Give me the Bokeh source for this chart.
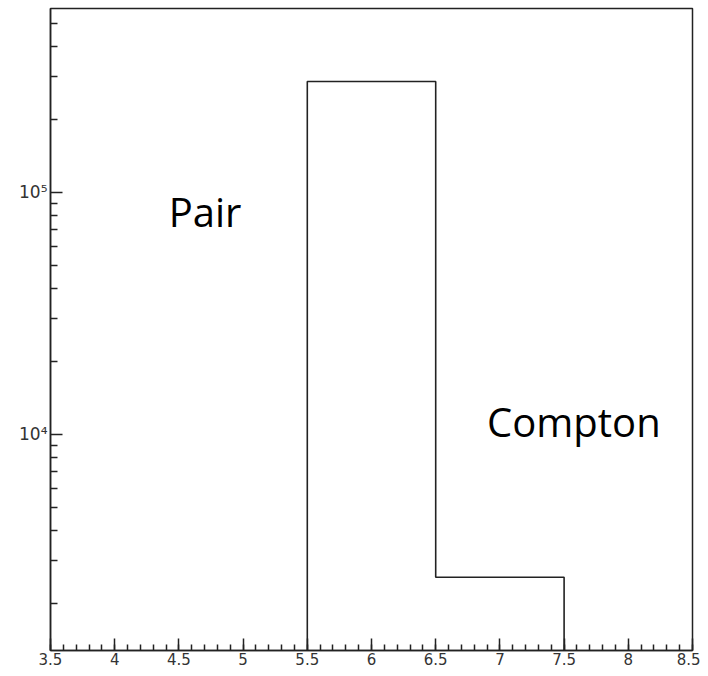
from bokeh.plotting import figure
from bokeh.models import FixedTicker, Range1d, Label
from bokeh.embed import file_html
from bokeh.resources import INLINE

# histogram bins (bin edges) and counts
bin_lo = [5.5, 6.5]
bin_hi = [6.5, 7.5]
counts = [287000, 2570]

x_min, x_max = 3.5, 8.5
y_min, y_max = 1280, 575000

x_major = [3.5, 4, 4.5, 5, 5.5, 6, 6.5, 7, 7.5, 8, 8.5]
x_labels = ["3.5", "4", "4.5", "5", "5.5", "6", "6.5", "7", "7.5", "8", "8.5"]
y_major = [1e4, 1e5]
y_labels = ["10\u2074", "10\u2075"]

p = figure(width=700, height=668, output_backend="svg", toolbar_location=None,
           y_axis_type="log",
           x_range=Range1d(x_min, x_max), y_range=Range1d(y_min, y_max),
           min_border_left=50, min_border_right=8, min_border_top=8,
           min_border_bottom=18)

p.xgrid.visible = False
p.ygrid.visible = False
p.outline_line_color = "#222222"
p.outline_line_width = 1.5
p.background_fill_color = "white"
p.border_fill_color = "white"

# step outline of the histogram
xs, ys = [], []
prev = y_min
for lo, hi, c in zip(bin_lo, bin_hi, counts):
    xs += [lo, lo, hi]
    ys += [prev, c, c]
    prev = c
xs.append(bin_hi[-1])
ys.append(y_min)
p.line(xs, ys, line_color="#222222", line_width=1.6)

# x axis
xa = p.xaxis[0]
xa.ticker = FixedTicker(ticks=x_major,
                        minor_ticks=[round(x_min + 0.1 * i, 2) for i in range(51)])
xa.major_label_overrides = {v: s for v, s in zip(x_major, x_labels)}
xa.major_tick_in = 12
xa.major_tick_out = 0
xa.minor_tick_in = 6
xa.minor_tick_out = 0
xa.axis_line_width = 1.5
xa.axis_line_color = "#222222"
xa.major_tick_line_width = 1.5
xa.minor_tick_line_width = 1.5
xa.major_tick_line_color = "#222222"
xa.minor_tick_line_color = "#222222"
xa.major_label_standoff = 2
xa.major_label_text_font = "DejaVu Sans"
xa.major_label_text_font_size = "15px"
xa.major_label_text_color = "#333333"

# y axis (log)
ya = p.yaxis[0]
ya.ticker = FixedTicker(ticks=y_major,
                        minor_ticks=[m * 10 ** e for e in (3, 4, 5) for m in range(2, 10)])
ya.major_label_overrides = {v: s for v, s in zip(y_major, y_labels)}
ya.major_tick_in = 12
ya.major_tick_out = 0
ya.minor_tick_in = 7
ya.minor_tick_out = 0
ya.axis_line_width = 1.5
ya.axis_line_color = "#222222"
ya.major_tick_line_width = 1.5
ya.minor_tick_line_width = 1.5
ya.major_tick_line_color = "#222222"
ya.minor_tick_line_color = "#222222"
ya.major_label_standoff = 3
ya.major_label_text_font = "DejaVu Sans"
ya.major_label_text_font_size = "17px"
ya.major_label_text_color = "#333333"

# annotations
p.add_layout(Label(x=4.42, y=83400, text="Pair", text_font="Open Sans",
                   text_font_size="40px", text_color="black",
                   text_baseline="alphabetic"))
p.add_layout(Label(x=6.90, y=11340, text="Compton", text_font="Open Sans",
                   text_font_size="40px", text_color="black",
                   text_baseline="alphabetic"))

open("out.html", "w").write(file_html(p, INLINE))
